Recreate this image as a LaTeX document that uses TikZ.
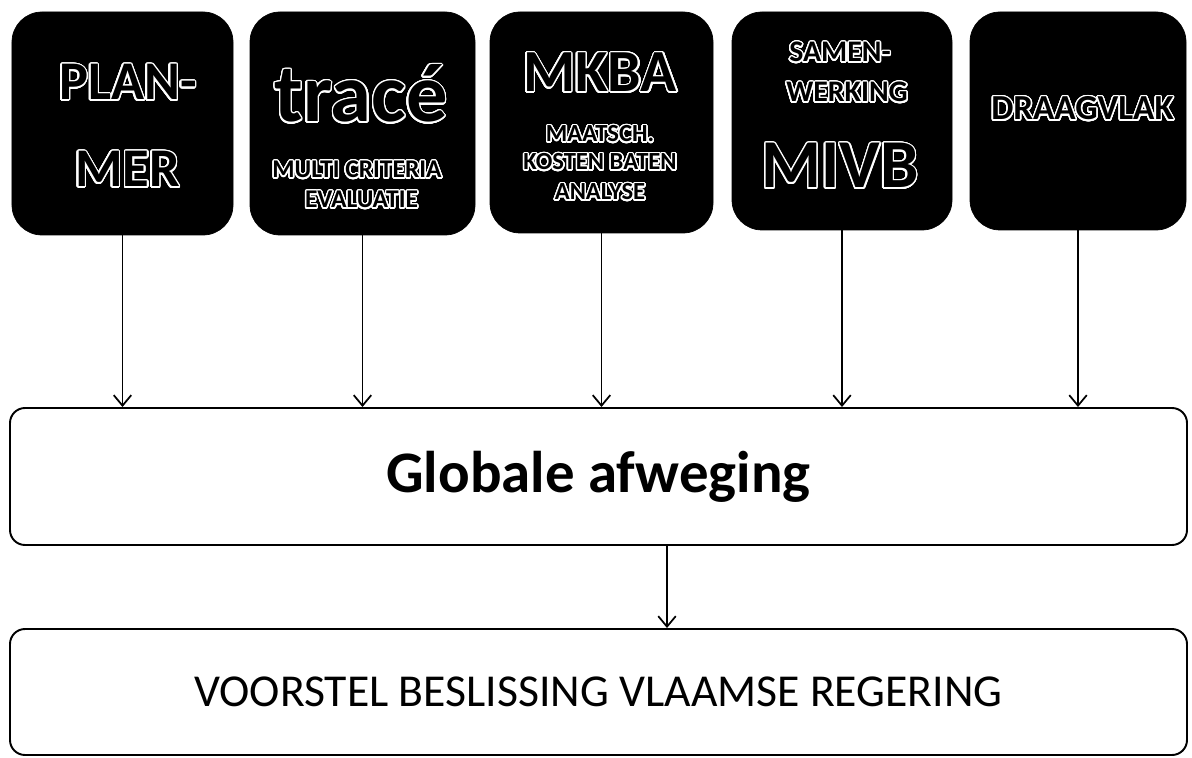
\documentclass[tikz,border=0pt]{standalone}
\usepackage{fontspec}
\setmainfont{Carlito}
\usepackage{contour}
\contourlength{0.8pt}
\contournumber{32}
\usetikzlibrary{arrows.meta}

% hollow white letters on the black tiles
\newcommand{\hollow}[1]{\contour{white}{#1}}
\newcommand{\fs}[1]{\fontsize{#1}{#1}\selectfont}

\begin{document}
\begin{tikzpicture}[
  tile/.style={fill=black, draw=black, rounded corners=0.6cm, inner sep=0pt},
  outl/.style={anchor=base, inner sep=0pt, text=black},
  panel/.style={draw=black, line width=1.1pt, rounded corners=0.3cm, inner sep=0pt,
                minimum width=23.54cm},
  arr/.style={line width=1pt, -{Straight Barb[length=6pt,width=10pt]}}
]

% fix the page size
\useasboundingbox (0,0) rectangle (23.84,-15.16);

% Top row of black tiles
\node[tile, minimum width=4.42cm, minimum height=4.46cm] (b1) at (2.45,-2.47) {};
\node[tile, minimum width=4.50cm, minimum height=4.46cm] (b2) at (7.25,-2.47) {};
\node[tile, minimum width=4.46cm, minimum height=4.42cm] (b3) at (12.03,-2.45) {};
\node[tile, minimum width=4.40cm, minimum height=4.36cm] (b4) at (16.84,-2.42) {};
\node[tile, minimum width=4.32cm, minimum height=4.36cm] (b5) at (21.56,-2.42) {};

% Texts of the tiles
\node[outl, font=\bfseries\fs{31}] (plan) at (2.56,-2.0) {\hollow{PLAN-}};
\node[outl, font=\bfseries\fs{31}] (mer) at (2.55,-3.74) {\hollow{MER}};

\node[outl, font=\bfseries\fs{47}] (trace) at (7.22,-2.44) {\hollow{tracé}};
\node[outl, font=\bfseries\fs{14.5}] (mce1) at (7.14,-3.56) {\hollow{MULTI CRITERIA}};
\node[outl, font=\bfseries\fs{14.5}] (mce2) at (7.23,-4.16) {\hollow{EVALUATIE}};

\node[outl, font=\bfseries\fs{34}] (mkba) at (12.0,-1.84) {\hollow{MKBA}};
\node[outl, font=\bfseries\fs{14}] (mk1) at (12.0,-2.84) {\hollow{MAATSCH.}};
\node[outl, font=\bfseries\fs{14}] (mk2) at (12.0,-3.4) {\hollow{KOSTEN BATEN}};
\node[outl, font=\bfseries\fs{14}] (mk3) at (12.0,-4.0) {\hollow{ANALYSE}};

\node[outl, font=\bfseries\fs{17}] (sam1) at (16.8,-1.24) {\hollow{SAMEN-}};
\node[outl, font=\bfseries\fs{17}] (sam2) at (16.94,-2.04) {\hollow{WERKING}};
\node[outl, font=\bfseries\fs{39}] (mivb) at (16.8,-3.76) {\hollow{MIVB}};

\node[outl, font=\bfseries\fs{20}] (draag) at (21.65,-2.4) {\hollow{DRAAGVLAK}};

% The two wide boxes
\node[panel, minimum height=2.74cm, font=\bfseries\fs{33.5}] (glob) at (11.97,-9.53) {Globale afweging};
\node[panel, minimum height=2.52cm, font=\fs{26}] (vrst) at (11.97,-13.84) {VOORSTEL BESLISSING VLAAMSE REGERING};

% Arrows
\foreach \b in {b1,b2,b3,b4,b5}
  \draw[arr] (\b.south) -- (\b.south |- glob.north);
\draw[arr] ([xshift=1.37cm]glob.south) -- ([xshift=1.37cm]vrst.north);

\end{tikzpicture}
\end{document}
